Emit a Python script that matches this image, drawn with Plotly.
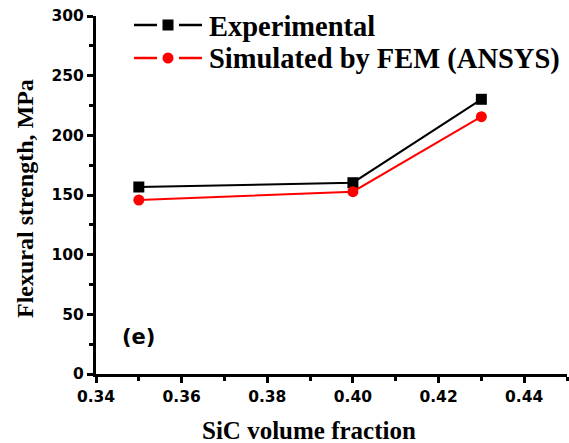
import plotly.graph_objects as go

sic_fraction = [0.35, 0.40, 0.43]
experimental = [156.7, 160.3, 230.2]
simulated = [145.8, 152.8, 215.6]

series_names = ["Experimental", "Simulated by FEM (ANSYS)"]
series_colors = ["black", "red"]
series_symbols = ["square", "circle"]

x_ticks = [0.34, 0.36, 0.38, 0.40, 0.42, 0.44]
x_tick_labels = ["0.34", "0.36", "0.38", "0.40", "0.42", "0.44"]
y_ticks = [0, 50, 100, 150, 200, 250, 300]

serif = "Liberation Serif"
sans = "DejaVu Sans"

# plot area in pixels (for converting layout positions to paper units)
L, R, T, B = 96, 567, 16, 374
PW, PH = R - L, B - T


def px(xp):
    return (xp - L) / PW


def py(yp):
    return (B - yp) / PH


fig = go.Figure()
for name, vals, col, sym in zip(series_names, [experimental, simulated], series_colors, series_symbols):
    fig.add_trace(go.Scatter(
        x=sic_fraction, y=vals, name=name,
        mode="lines+markers",
        line=dict(color=col, width=2),
        marker=dict(symbol=sym, size=11, color=col),
        showlegend=False,
    ))

axis_common = dict(
    showline=True, linecolor="black", linewidth=3,
    ticks="outside", ticklen=6, tickwidth=2.5, tickcolor="black",
    showgrid=False, zeroline=False, mirror=False,
    tickfont=dict(family=sans, size=15.5, color="black", weight="bold"),
)

fig.update_xaxes(
    range=[0.34, 0.45], tickvals=x_ticks, ticktext=x_tick_labels,
    minor=dict(dtick=0.01, ticks="outside", ticklen=4, tickwidth=2.5, tickcolor="black", showgrid=False),
    **axis_common,
)
fig.update_yaxes(
    range=[0, 300], tickvals=y_ticks,
    minor=dict(dtick=25, ticks="outside", ticklen=4, tickwidth=2.5, tickcolor="black", showgrid=False),
    **axis_common,
)

# custom legend (line - marker - line, then label)
shapes = []
for i, (name, col, sym) in enumerate(zip(series_names, series_colors, series_symbols)):
    yc = 25 + 33 * i
    shapes.append(dict(type="line", xref="paper", yref="paper",
                       x0=px(134), x1=px(157), y0=py(yc), y1=py(yc),
                       line=dict(color=col, width=2.5)))
    shapes.append(dict(type="line", xref="paper", yref="paper",
                       x0=px(179), x1=px(202), y0=py(yc), y1=py(yc),
                       line=dict(color=col, width=2.5)))
    half = 5.5
    shapes.append(dict(type="rect" if sym == "square" else "circle",
                       xref="paper", yref="paper",
                       x0=px(168 - half), x1=px(168 + half),
                       y0=py(yc + half), y1=py(yc - half),
                       fillcolor=col, line=dict(color=col, width=0)))
    fig.add_annotation(
        text="<b>%s</b>" % name, xref="paper", yref="paper",
        x=px(207), y=py(yc + 1), showarrow=False,
        xanchor="left", yanchor="middle",
        font=dict(family=serif, size=28.5, color="black"),
    )

fig.add_annotation(
    text="<b>SiC volume fraction</b>", xref="paper", yref="paper",
    x=px(309), y=py(430), showarrow=False,
    xanchor="center", yanchor="middle",
    font=dict(family=serif, size=25, color="black"),
)
fig.add_annotation(
    text="<b>Flexural strength, MPa</b>", xref="paper", yref="paper",
    x=px(25), y=py(199), showarrow=False, textangle=-90,
    xanchor="center", yanchor="middle",
    font=dict(family=serif, size=24, color="black"),
)
fig.add_annotation(
    text="<b>(e)</b>", xref="paper", yref="paper",
    x=px(138), y=py(337), showarrow=False,
    xanchor="center", yanchor="middle",
    font=dict(family=sans, size=21, color="black"),
)

fig.update_layout(
    width=569, height=443,
    margin=dict(l=L, r=569 - R, t=T, b=443 - B),
    paper_bgcolor="white", plot_bgcolor="white",
    shapes=shapes,
)

fig.write_html("out.html")
